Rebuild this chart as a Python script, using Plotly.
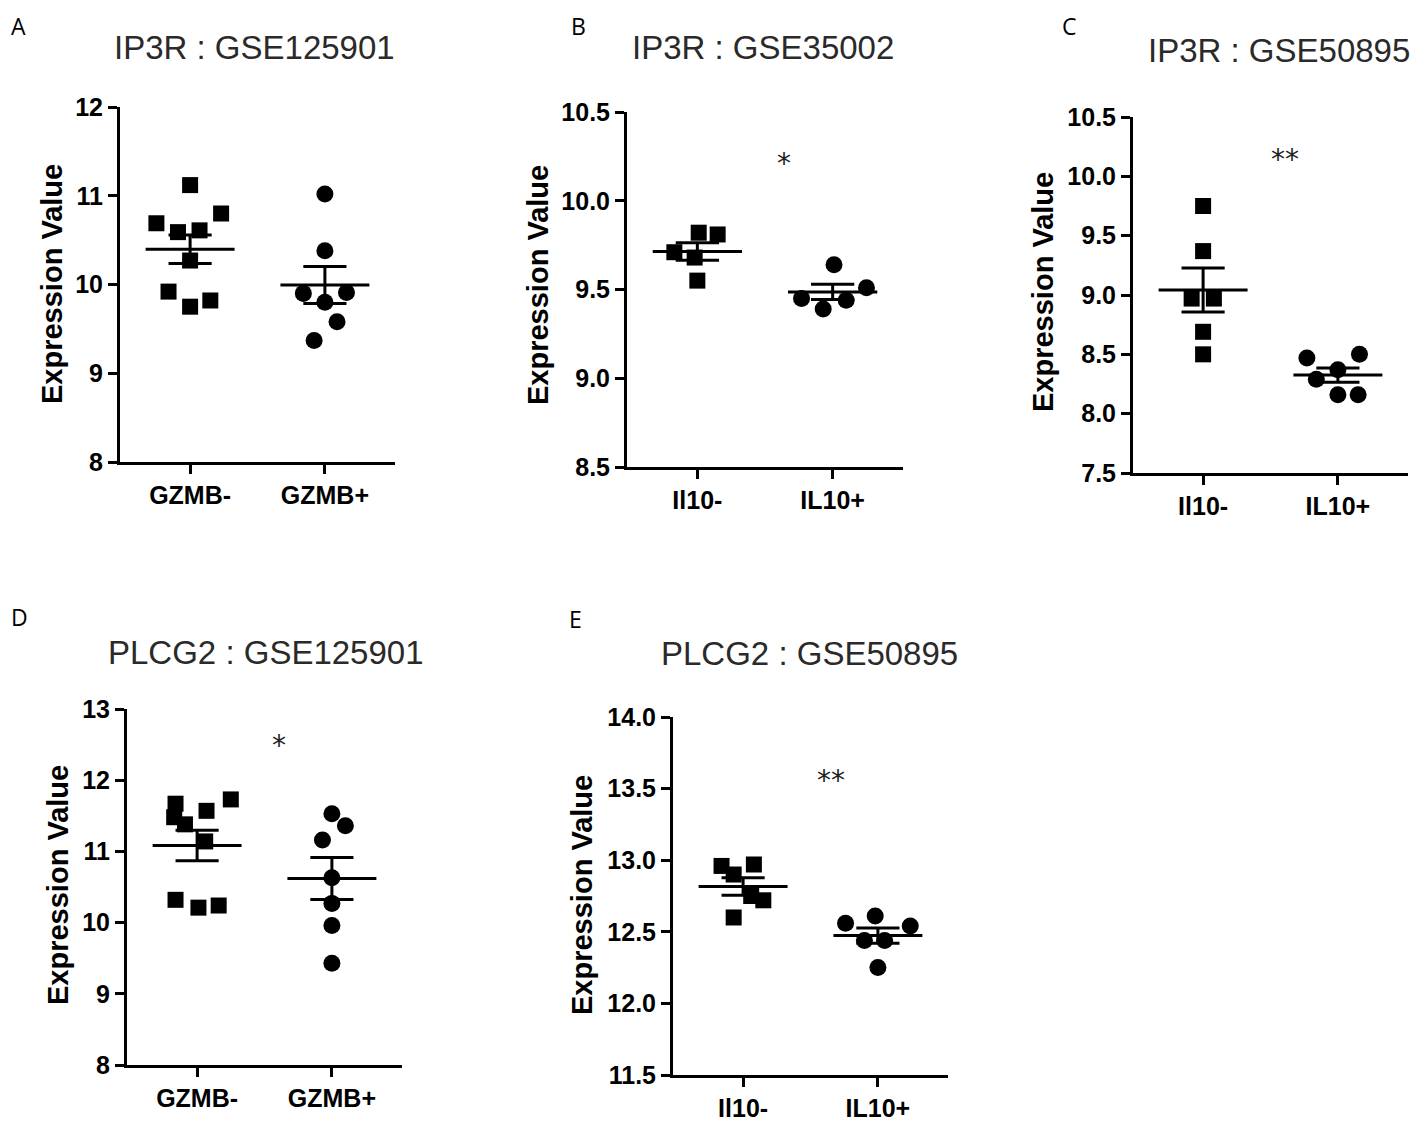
import numpy as np
import plotly.graph_objects as go

# the page puts the plot 8px in from the top-left corner, so the figure is
# drawn 16px smaller and every pixel position below is shifted by OFF
W, H = 1418, 1130
OFF = 8
FW, FH = W - 2 * OFF, H - 2 * OFF

# ---- data ----
A_TITLE = "IP3R : GSE125901"
A_CATS = ["GZMB-", "GZMB+"]
A_NEG = [11.12, 10.80, 10.69, 10.59, 10.61, 10.27, 9.92, 9.82, 9.75]
A_POS = [11.02, 10.38, 9.90, 9.91, 9.80, 9.58, 9.37]

B_TITLE = "IP3R : GSE35002"
B_CATS = ["Il10-", "IL10+"]
B_NEG = [9.82, 9.81, 9.71, 9.68, 9.55]
B_POS = [9.64, 9.51, 9.45, 9.44, 9.39]

C_TITLE = "IP3R : GSE50895"
C_CATS = ["Il10-", "IL10+"]
C_NEG = [9.75, 9.37, 8.97, 8.97, 8.69, 8.50]
C_POS = [8.47, 8.50, 8.37, 8.29, 8.16, 8.16]

D_TITLE = "PLCG2 : GSE125901"
D_CATS = ["GZMB-", "GZMB+"]
D_NEG = [11.67, 11.73, 11.57, 11.48, 11.38, 11.14, 10.32, 10.21, 10.24]
D_POS = [11.53, 11.36, 11.16, 10.63, 10.27, 9.96, 9.43]

E_TITLE = "PLCG2 : GSE50895"
E_CATS = ["Il10-", "IL10+"]
E_NEG = [12.96, 12.97, 12.90, 12.75, 12.72, 12.60]
E_POS = [12.61, 12.56, 12.54, 12.44, 12.44, 12.25]

SIG_MARKS = {"B": "*", "C": "**", "D": "*", "E": "**"}

# horizontal scatter of points (as seen in the picture)
JIT = {
    "A": ([0, 0.23, -0.25, -0.09, 0.07, 0, -0.16, 0.15, 0], [0, 0, -0.16, 0.16, 0, 0.09, -0.08]),
    "B": ([0.01, 0.15, -0.17, -0.02, 0], [0.01, 0.25, -0.23, 0.10, -0.07]),
    "C": ([0, 0, -0.085, 0.08, 0, 0], [-0.23, 0.16, 0, -0.16, 0, 0.15]),
    "D": ([-0.16, 0.25, 0.07, -0.17, -0.09, 0.06, -0.16, 0.01, 0.16], [0, 0.10, -0.07, 0, 0, 0, 0]),
    "E": ([-0.16, 0.08, -0.07, 0.06, 0.15, -0.07], [-0.02, -0.24, 0.24, -0.10, 0.05, 0]),
}

# panel geometry in pixels: axis left, right, top, bottom; y range, dtick, tick format,
# title centre, panel letter (left, top), y title centre, significance mark (data coords)
PANELS = [
    ("A", A_TITLE, A_CATS, A_NEG, A_POS, (120, 395, 107, 462), (8, 12), 1, "d", (255, 47), (9, 8), (52, 284), None),
    ("B", B_TITLE, B_CATS, B_NEG, B_POS, (627, 903, 112, 467), (8.5, 10.5), 0.5, ".1f", (763, 47), (569, 8), (538, 285), (0.64, 10.21)),
    ("C", C_TITLE, C_CATS, C_NEG, C_POS, (1133, 1408, 117, 473), (7.5, 10.5), 0.5, ".1f", (1279, 50), (1060, 8), (1043, 292), (0.61, 10.14)),
    ("D", D_TITLE, D_CATS, D_NEG, D_POS, (127, 402, 709, 1065), (8, 13), 1, "d", (266, 652), (9, 599), (58, 885), (0.61, 12.49)),
    ("E", E_TITLE, E_CATS, E_NEG, E_POS, (673, 948, 717, 1075), (11.5, 14.0), 0.5, ".1f", (810, 653), (567, 601), (582, 895), (0.65, 13.56)),
]


def px(x):
    return (x - OFF) / FW


def py(y):
    return 1 - (y - OFF) / FH


BOLD = "Liberation Sans"
fig = go.Figure()
annotations = []

for i, (key, title, cats, neg, pos, box, yr, dt, fmt, tpos, lpos, ylpos, spos) in enumerate(PANELS):
    n = "" if i == 0 else str(i + 1)
    xa, ya = "x" + n, "y" + n
    left, right, top, bottom = box
    fig.layout["xaxis" + n] = dict(
        domain=[px(left), px(right)], anchor=ya, range=[-0.52, 1.52],
        tickvals=[0, 1], ticktext=cats, showline=True, linecolor="black", linewidth=3,
        ticks="outside", ticklen=9, tickwidth=3, tickcolor="black", showgrid=False, zeroline=False,
        tickfont=dict(family=BOLD, size=25, color="black", weight="bold"), fixedrange=True,
    )
    fig.layout["yaxis" + n] = dict(
        domain=[py(bottom), py(top)], anchor=xa, range=list(yr), dtick=dt, tick0=yr[0],
        tickformat=fmt, showline=True, linecolor="black", linewidth=3,
        ticks="outside", ticklen=9, tickwidth=3, tickcolor="black", showgrid=False, zeroline=False,
        tickfont=dict(family=BOLD, size=25, color="black", weight="bold"), fixedrange=True,
    )

    jn, jp = JIT[key]
    for g, (vals, jit, sym) in enumerate([(neg, jn, "square"), (pos, jp, "circle")]):
        vals = np.array(vals)
        fig.add_trace(go.Scatter(
            x=[g + j for j in jit], y=vals, mode="markers", xaxis=xa, yaxis=ya,
            marker=dict(symbol=sym, size=17 if sym == "circle" else 16, color="black", line=dict(width=0)),
            showlegend=False, hoverinfo="y",
        ))
        # mean with SEM error bar
        m = vals.mean()
        sem = vals.std(ddof=1) / np.sqrt(len(vals))
        lx = [g - 0.33, g + 0.33, None, g - 0.16, g + 0.16, None, g - 0.16, g + 0.16, None, g, g]
        ly = [m, m, None, m + sem, m + sem, None, m - sem, m - sem, None, m - sem, m + sem]
        fig.add_trace(go.Scatter(
            x=lx, y=ly, mode="lines", xaxis=xa, yaxis=ya,
            line=dict(color="black", width=3), showlegend=False, hoverinfo="skip",
        ))

    annotations.append(dict(
        text=title, x=px(tpos[0]), y=py(tpos[1]), xref="paper", yref="paper",
        xanchor="center", yanchor="middle", showarrow=False,
        font=dict(family="Liberation Sans", size=33, color="#2a2a2a"),
    ))
    annotations.append(dict(
        text=key, x=px(lpos[0]), y=py(lpos[1]), xref="paper", yref="paper",
        xanchor="left", yanchor="top", showarrow=False,
        font=dict(family="Open Sans", size=23, color="black"),
    ))
    annotations.append(dict(
        text="Expression Value", x=px(ylpos[0]), y=py(ylpos[1]), xref="paper", yref="paper",
        xanchor="center", yanchor="middle", showarrow=False, textangle=-90,
        font=dict(family=BOLD, size=29, color="black", weight="bold"),
    ))
    if spos is not None:
        annotations.append(dict(
            text=SIG_MARKS[key], x=spos[0], y=spos[1], xref=xa, yref=ya,
            xanchor="center", yanchor="middle", showarrow=False,
            font=dict(family="DejaVu Sans", size=28, color="#222"),
        ))

fig.update_layout(
    width=FW, height=FH, margin=dict(l=0, r=0, t=0, b=0, autoexpand=False),
    paper_bgcolor="white", plot_bgcolor="white",
    annotations=annotations,
)
fig.write_html("out.html")
